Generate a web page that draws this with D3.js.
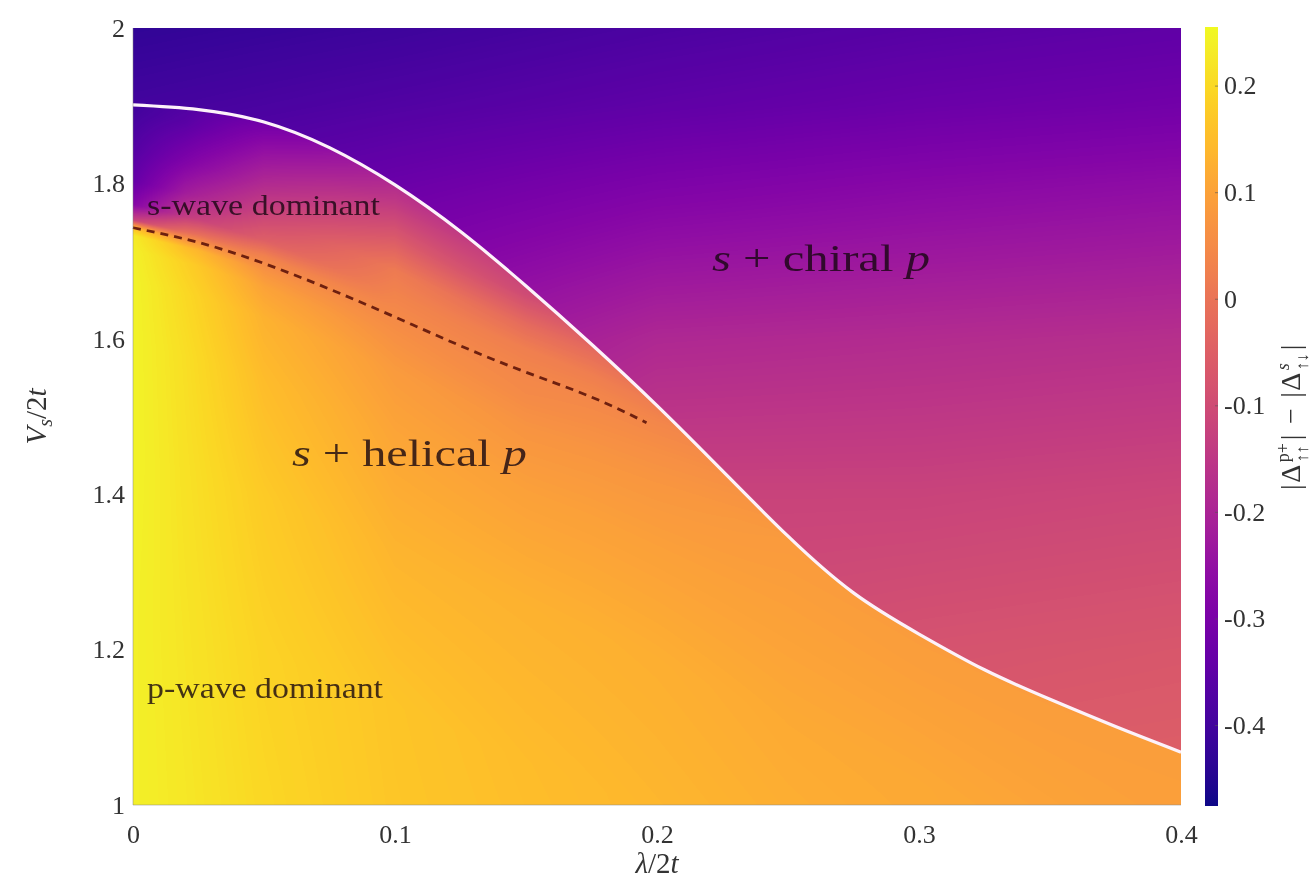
<!DOCTYPE html>
<html>
<head>
<meta charset="utf-8">
<script src="https://cdn.jsdelivr.net/npm/d3@7"></script>
<style>
  body { margin: 0; background: #fff; }
  #chart { position: relative; width: 1312px; height: 885px; }
  #chart canvas, #chart svg { position: absolute; left: 0; top: 0; }
  text { font-family: "Liberation Serif", "Times New Roman", serif; }
</style>
</head>
<body>
<div id="chart"></div>
<script>
// ticks
const xTicks = [0, 0.1, 0.2, 0.3, 0.4];
const yTicks = [1, 1.2, 1.4, 1.6, 1.8, 2];
const colorTicks = [-0.4, -0.3, -0.2, -0.1, 0, 0.1, 0.2];
const colorRange = [-0.476, 0.255];

// white phase boundary (lambda/2t -> Vs/2t)
const boundaryX = [0, 0.025, 0.05, 0.075, 0.1, 0.125, 0.15, 0.175, 0.2, 0.225, 0.25, 0.275, 0.3, 0.325, 0.35, 0.375, 0.4];
const boundaryV = [1.901, 1.895, 1.879, 1.846, 1.798, 1.738, 1.668, 1.593, 1.514, 1.43, 1.346, 1.273, 1.22, 1.174, 1.136, 1.101, 1.068];

// dashed crossover line
const dashedX = [0, 0.025, 0.05, 0.075, 0.1, 0.125, 0.15, 0.175, 0.196];
const dashedV = [1.743, 1.724, 1.697, 1.664, 1.628, 1.591, 1.557, 1.525, 1.492];

// colour value below the white line (s + helical p)
// rows: offset of Vs/2t from the dashed line, cols: lambda/2t
const helicalX = [0, 0.02, 0.05, 0.1, 0.15, 0.2, 0.25, 0.3, 0.35, 0.4];
const helicalOffset = [-0.75, -0.5, -0.3, -0.15, -0.07, -0.03, -0.01, 0, 0.01, 0.03, 0.06, 0.1, 0.15, 0.2];
const helicalValues = [
  [0.24, 0.225, 0.20, 0.17, 0.16, 0.145, 0.13, 0.12, 0.11, 0.10],
  [0.24, 0.22, 0.19, 0.165, 0.15, 0.14, 0.13, 0.12, 0.11, 0.10],
  [0.245, 0.215, 0.175, 0.135, 0.13, 0.125, 0.115, 0.113, 0.107, 0.098],
  [0.245, 0.21, 0.15, 0.105, 0.095, 0.095, 0.095, 0.092, 0.092, 0.093],
  [0.245, 0.20, 0.13, 0.085, 0.07, 0.075, 0.085, 0.085, 0.085, 0.088],
  [0.24, 0.185, 0.10, 0.065, 0.05, 0.06, 0.07, 0.08, 0.08, 0.085],
  [0.23, 0.15, 0.07, 0.055, 0.045, 0.05, 0.06, 0.075, 0.075, 0.08],
  [0.15, 0.07, 0.05, 0.05, 0.04, 0.045, 0.055, 0.07, 0.07, 0.075],
  [-0.12, -0.02, 0.03, 0.045, 0.035, 0.04, 0.05, 0.065, 0.065, 0.07],
  [-0.28, -0.14, -0.05, 0.035, 0.025, 0.02, 0.04, 0.06, 0.06, 0.065],
  [-0.34, -0.22, -0.11, 0.015, -0.02, -0.02, 0.02, 0.05, 0.05, 0.055],
  [-0.37, -0.29, -0.18, -0.06, -0.1, -0.08, -0.02, 0.03, 0.03, 0.035],
  [-0.40, -0.36, -0.26, -0.15, -0.15, -0.14, -0.06, 0, 0, 0.005],
  [-0.42, -0.40, -0.35, -0.22, -0.2, -0.2, -0.1, -0.03, -0.03, -0.025]
];

// colour value above the white line (s + chiral p), rows = Vs/2t
const chiralX = [0, 0.1, 0.2, 0.3, 0.4];
const chiralY = [1.0, 1.2, 1.4, 1.6, 1.8, 1.9, 2.0];
const chiralValues = [
  [-0.1, -0.08, -0.06, -0.05, -0.045],
  [-0.13, -0.11, -0.1, -0.08, -0.07],
  [-0.2, -0.18, -0.12, -0.12, -0.11],
  [-0.28, -0.25, -0.19, -0.18, -0.17],
  [-0.37, -0.33, -0.295, -0.275, -0.26],
  [-0.40, -0.375, -0.35, -0.33, -0.315],
  [-0.43, -0.41, -0.385, -0.365, -0.35]
];

const W = 1312, H = 885;
const plot = { left: 133, right: 1181, top: 28, bottom: 805 };

const x = d3.scaleLinear().domain([0, 0.4]).range([plot.left, plot.right]);
const y = d3.scaleLinear().domain([1, 2]).range([plot.bottom, plot.top]);
const color = d3.scaleSequential(d3.interpolatePlasma).domain(colorRange);
const cbY = d3.scaleLinear().domain(colorRange).range([806, 27]);
// dashed line as a reference curve for the helical grid
const dashRef = d3.scaleLinear().domain(dashedX).range(dashedV);

const chart = d3.select('#chart');
const canvas = chart.append('canvas').attr('width', W).attr('height', H).node();
const ctx = canvas.getContext('2d');
const svg = chart.append('svg').attr('width', W).attr('height', H);

function bilinear(xs, ys, grid) {
  return (vx, vy) => {
    const i = Math.max(0, Math.min(xs.length - 2, d3.bisectRight(xs, vx) - 1));
    const j = Math.max(0, Math.min(ys.length - 2, d3.bisectRight(ys, vy) - 1));
    const tx = Math.max(0, Math.min(1, (vx - xs[i]) / (xs[i + 1] - xs[i])));
    const ty = Math.max(0, Math.min(1, (vy - ys[j]) / (ys[j + 1] - ys[j])));
    const a = grid[j][i], b = grid[j][i + 1], c = grid[j + 1][i], d = grid[j + 1][i + 1];
    return (a * (1 - tx) + b * tx) * (1 - ty) + (c * (1 - tx) + d * tx) * ty;
  };
}

// colour lookup
const nLut = 1024;
const lut = d3.range(nLut).map(k =>
  d3.rgb(color(colorRange[0] + k / (nLut - 1) * (colorRange[1] - colorRange[0]))));

function fieldImage(fn) {
  const w = plot.right - plot.left, h = plot.bottom - plot.top;
  const off = document.createElement('canvas');
  off.width = w; off.height = h;
  const octx = off.getContext('2d');
  const img = octx.createImageData(w, h);
  for (let j = 0; j < h; j++) {
    const vy = y.invert(plot.top + j + 0.5);
    for (let i = 0; i < w; i++) {
      const vx = x.invert(plot.left + i + 0.5);
      const v = fn(vx, vy);
      let k = Math.round((v - colorRange[0]) / (colorRange[1] - colorRange[0]) * (nLut - 1));
      k = Math.max(0, Math.min(nLut - 1, k));
      const c = lut[k], p = (j * w + i) * 4;
      img.data[p] = c.r; img.data[p + 1] = c.g; img.data[p + 2] = c.b; img.data[p + 3] = 255;
    }
  }
  octx.putImageData(img, 0, 0);
  return off;
}

const boundary = boundaryX.map((v, i) => [v, boundaryV[i]]);
const dashed = dashedX.map((v, i) => [v, dashedV[i]]);
const line = d3.line().x(d => x(d[0])).y(d => y(d[1])).curve(d3.curveNatural);

// heatmap: two phases clipped by the boundary
const below = new Path2D(line(boundary) + `L${plot.right},${plot.bottom}L${plot.left},${plot.bottom}Z`);
const above = new Path2D(line(boundary) + `L${plot.right},${plot.top}L${plot.left},${plot.top}Z`);

const helical = bilinear(helicalX, helicalOffset, helicalValues);
ctx.save();
ctx.clip(below);
ctx.drawImage(fieldImage((vx, vy) => helical(vx, vy - dashRef(vx))), plot.left, plot.top);
ctx.restore();
ctx.save();
ctx.clip(above);
ctx.drawImage(fieldImage(bilinear(chiralX, chiralY, chiralValues)), plot.left, plot.top);
ctx.restore();

// lines
svg.append('clipPath').attr('id', 'plotclip')
  .append('rect')
  .attr('x', plot.left).attr('y', plot.top)
  .attr('width', plot.right - plot.left).attr('height', plot.bottom - plot.top);

svg.append('path')
  .attr('d', line(dashed))
  .attr('fill', 'none')
  .attr('stroke', '#6e200f')
  .attr('stroke-width', 2.8)
  .attr('stroke-dasharray', '8,6');

svg.append('path')
  .attr('d', line(boundary))
  .attr('clip-path', 'url(#plotclip)')
  .attr('fill', 'none')
  .attr('stroke', '#fdf2fa')
  .attr('stroke-width', 3.2);

// faint axis edges
svg.append('path')
  .attr('d', `M${plot.left},${plot.top}V${plot.bottom}H${plot.right}`)
  .attr('fill', 'none')
  .attr('stroke', '#888')
  .attr('stroke-opacity', 0.5)
  .attr('stroke-width', 1);

// axes
const fmt = d => d === 0 ? '0' : d3.format('~g')(d);

const gx = svg.append('g')
  .attr('transform', `translate(0,${plot.bottom})`)
  .call(d3.axisBottom(x).tickValues(xTicks).tickSize(0).tickPadding(20).tickFormat(fmt));
const gy = svg.append('g')
  .attr('transform', `translate(${plot.left},0)`)
  .call(d3.axisLeft(y).tickValues(yTicks).tickSize(0).tickPadding(8).tickFormat(fmt));
[gx, gy].forEach(g => {
  g.select('.domain').remove();
  g.selectAll('text')
    .attr('font-family', '"Liberation Serif", serif')
    .attr('font-size', 26)
    .attr('fill', '#333');
});

// axis titles
const xt = svg.append('text')
  .attr('x', (plot.left + plot.right) / 2).attr('y', 873)
  .attr('text-anchor', 'middle').attr('font-size', 29).attr('fill', '#333');
xt.append('tspan').attr('font-style', 'italic').text('λ');
xt.append('tspan').text('/2');
xt.append('tspan').attr('font-style', 'italic').text('t');

const yt = svg.append('text')
  .attr('transform', `translate(46,${(plot.top + plot.bottom) / 2}) rotate(-90)`)
  .attr('text-anchor', 'middle').attr('font-size', 29).attr('fill', '#333');
yt.append('tspan').attr('font-style', 'italic').text('V');
yt.append('tspan').attr('font-style', 'italic').attr('font-size', 20).attr('dy', 6).text('s');
yt.append('tspan').attr('dy', -6).text('/2');
yt.append('tspan').attr('font-style', 'italic').text('t');

// region labels
function regionLabel(px, py, len, size, parts) {
  const t = svg.append('text')
    .attr('x', px).attr('y', py)
    .attr('font-size', size)
    .attr('fill', '#160610')
    .attr('fill-opacity', 0.8)
    .attr('textLength', len)
    .attr('lengthAdjust', 'spacingAndGlyphs');
  parts.forEach(p => {
    t.append('tspan').attr('font-style', p[1] ? 'italic' : 'normal').text(p[0]);
  });
}
regionLabel(147, 215, 233, 30, [['s-wave dominant', false]]);
regionLabel(147, 698, 236, 30, [['p-wave dominant', false]]);
regionLabel(712, 271, 218, 38, [['s', true], [' + chiral ', false], ['p', true]]);
regionLabel(292, 466, 235, 38, [['s', true], [' + helical ', false], ['p', true]]);

// colorbar
const cb = { x: 1205, w: 13 };
const grad = svg.append('defs').append('linearGradient')
  .attr('id', 'cbgrad').attr('x1', 0).attr('y1', 1).attr('x2', 0).attr('y2', 0);
d3.range(0, 1.0001, 0.02).forEach(t => {
  grad.append('stop')
    .attr('offset', t)
    .attr('stop-color', color(colorRange[0] + t * (colorRange[1] - colorRange[0])));
});
svg.append('rect')
  .attr('x', cb.x).attr('y', cbY(colorRange[1]))
  .attr('width', cb.w).attr('height', cbY(colorRange[0]) - cbY(colorRange[1]))
  .attr('fill', 'url(#cbgrad)');

const gc = svg.append('g')
  .attr('transform', `translate(${cb.x + cb.w},0)`)
  .call(d3.axisRight(cbY).tickValues(colorTicks).tickSize(-3).tickPadding(6)
    .tickFormat(d => d === 0 ? '0' : d.toFixed(1)));
gc.select('.domain').remove();
gc.selectAll('line').attr('stroke', '#555').attr('stroke-opacity', 0.6);
gc.selectAll('text')
  .attr('font-family', '"Liberation Serif", serif')
  .attr('font-size', 26)
  .attr('fill', '#333');

// colorbar label |Δ^{p+}_{↑↑}| − |Δ^{s}_{↑↓}|, laid out piece by piece
const cbl = svg.append('g')
  .attr('transform', `translate(1300,${(cbY.range()[0] + cbY.range()[1]) / 2}) rotate(-90)`)
  .attr('fill', '#333');
const inner = cbl.append('g');
const tokens = [
  { t: '|' }, { t: 'Δ' }, { sup: 'p+', sub: '↑↑' }, { t: '|' },
  { t: '−', pad: 9 },
  { t: '|' }, { t: 'Δ' }, { sup: 's', sub: '↑↓', italic: true }, { t: '|' }
];
let cursor = 0;
tokens.forEach(tok => {
  cursor += tok.pad || 0;
  if (tok.t) {
    const el = inner.append('text').attr('x', cursor).attr('font-size', 28).text(tok.t);
    cursor += el.node().getComputedTextLength() + 1.5;
  } else {
    const s1 = inner.append('text').attr('x', cursor + 1).attr('y', -11).attr('font-size', 18)
      .attr('font-style', tok.italic ? 'italic' : 'normal').text(tok.sup);
    const s2 = inner.append('text').attr('x', cursor + 1).attr('y', 8).attr('font-size', 17).text(tok.sub);
    cursor += Math.max(s1.node().getComputedTextLength(), s2.node().getComputedTextLength()) + 4;
  }
  cursor += tok.pad || 0;
});
inner.attr('transform', `translate(${-cursor / 2},0)`);
</script>
</body>
</html>
